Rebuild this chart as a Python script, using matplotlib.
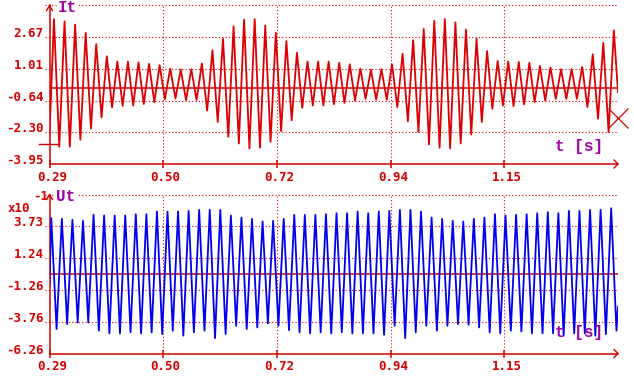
import numpy as np
import matplotlib
matplotlib.use("Agg")
import matplotlib.pyplot as plt
from matplotlib.lines import Line2D
from matplotlib import transforms as mtrans

# ---------------- data ----------------
t_start = 0.288          # left end of the time axis [s]
t_div = 0.2158           # width of one time division [s]
x_tick_labels = ["0.29", "0.50", "0.72", "0.94", "1.15"]

it_y_min = -3.953
it_y_div = 1.6565
it_y_labels = ["-3.95", "-2.30", "-0.64", "1.01", "2.67"]

ut_y_min = -6.26
ut_y_div = 2.498
ut_y_labels = ["-6.26", "-3.76", "-1.26", "1.24", "3.73"]

period = 0.02005         # one mains cycle [s]
it_first_peak_t = 0.2965
ut_first_peak_t = 0.2914

# current It: peak and trough of every cycle
it_peaks = [3.62, 3.50, 3.33, 2.90, 2.31, 1.68, 1.40, 1.40, 1.36, 1.28, 1.21, 1.03, 0.99, 1.00, 1.30, 1.99, 2.59, 3.24,
            3.59, 3.62, 3.28, 2.90, 2.47, 1.86, 1.40, 1.40, 1.40, 1.34, 1.26, 1.03, 0.97, 1.00, 1.26, 1.81, 2.52, 3.10,
            3.53, 3.62, 3.45, 3.07, 2.59, 1.95, 1.43, 1.40, 1.38, 1.34, 1.17, 1.09, 1.00, 1.00, 1.12, 1.78, 2.38, 3.03]
it_troughs = [-3.05, -3.05, -2.68, -2.10, -1.52, -1.00, -0.91, -0.90, -0.82, -0.72, -0.57, -0.53, -0.61, -0.61, -1.16, -1.76, -2.53, -2.88,
              -3.14, -3.10, -2.79, -2.24, -1.67, -1.02, -0.90, -0.90, -0.83, -0.76, -0.64, -0.55, -0.59, -0.59, -0.98, -1.72, -2.28, -2.93,
              -3.10, -3.14, -2.88, -2.41, -1.76, -1.07, -0.90, -0.93, -0.84, -0.72, -0.64, -0.55, -0.55, -0.55, -0.98, -1.59, -2.28]
it_start_value = -2.4
it_end_value = -0.2

# voltage Ut (x10^-1): peak and trough of every cycle
ut_peaks = [4.37, 4.32, 4.24, 4.16, 4.63, 4.58, 4.58, 4.58, 4.68, 4.68, 4.89, 4.89, 4.89, 4.94, 5.02, 5.02, 5.02, 4.58,
            4.42, 4.32, 4.11, 4.16, 4.32, 4.63, 4.63, 4.63, 4.68, 4.76, 4.76, 4.89, 4.76, 4.89, 4.94, 5.02, 5.02, 4.89,
            4.42, 4.32, 4.16, 4.11, 4.32, 4.42, 4.68, 4.58, 4.63, 4.68, 4.76, 4.84, 4.76, 4.94, 4.94, 5.02, 5.02, 5.15]
ut_troughs = [-4.34, -3.95, -3.82, -3.82, -4.47, -4.68, -4.68, -4.60, -4.68, -4.60, -4.73, -4.47, -4.86, -4.60, -4.47, -5.05, -4.73, -4.08,
              -4.34, -4.21, -3.90, -4.08, -4.42, -4.60, -4.68, -4.60, -4.68, -4.60, -4.68, -4.68, -4.68, -4.79, -4.08, -5.05, -4.60, -4.08,
              -4.47, -4.08, -3.95, -4.00, -4.21, -4.60, -4.68, -4.47, -4.53, -4.68, -4.68, -4.68, -4.86, -4.68, -4.68, -4.86, -4.73, -4.47]
ut_start_value = -0.8
ut_end_value = -2.6

cursor_value = -1.55     # cursor mark at the right end of the It trace
it_marker_value = -2.91  # level marker left of the It axis

# ---------------- style ----------------
RED = "#d20000"
SIG_RED = "#dc0000"
BLUE = "#0000f0"
PURPLE = "#a000a8"
LABEL_FONT = dict(family="DejaVu Sans Mono", weight="bold", size=9, color=RED)
NAME_FONT = dict(family="Liberation Mono", weight="bold", size=11.5, color=PURPLE)

W, H = 634, 380
fig = plt.figure(figsize=(W / 100, H / 100), dpi=100)
fig.patch.set_facecolor("white")


def px(x, y):
    return x / W, 1 - y / H


def build_series(first_t, peaks, troughs, start_v, end_v, t_end):
    tp = first_t + np.arange(len(peaks)) * period
    tt = first_t + (np.arange(len(troughs)) + 0.5) * period
    ts, ys = [t_start], [start_v]
    for i in range(len(peaks)):
        ts.append(tp[i]); ys.append(peaks[i])
        if i < len(troughs):
            ts.append(tt[i]); ys.append(troughs[i])
    ts.append(t_end); ys.append(end_v)
    return np.array(ts), np.array(ys)


t_end = t_start + 5 * t_div
x_ticks = t_start + np.arange(len(x_tick_labels)) * t_div


def setup_panel(ax, y_min, y_div, y_labels, name, name_xy, tlabel_xy):
    y_max = y_min + 5 * y_div
    ax.set_xlim(t_start, t_end)
    ax.set_ylim(y_min, y_max)
    ax.set_facecolor("white")
    for s in ["top", "right"]:
        ax.spines[s].set_visible(False)
    for s in ["left", "bottom"]:
        ax.spines[s].set_color(RED)
        ax.spines[s].set_linewidth(1.1)
    ax.set_xticks(x_ticks)
    ax.set_xticklabels([])
    ax.set_yticks([])
    ax.tick_params(axis="x", direction="inout", length=6, width=1.1, color=RED)
    dot = dict(color=RED, lw=0.8, linestyle=(0, (1, 2)), zorder=1)
    y_ticks = y_min + np.arange(len(y_labels)) * y_div
    btrans = mtrans.blended_transform_factory(ax.transAxes, ax.transData)
    for yv in list(y_ticks[1:]) + [y_max]:
        ax.plot([-0.008, 1.0], [yv, yv], transform=btrans, clip_on=False, **dot)
    for xv in list(x_ticks[1:]) + [t_end]:
        ax.axvline(xv, **dot)
    ax.axhline(0, color=RED, lw=1.1, zorder=2)
    # tick labels
    ylab_trans = btrans + mtrans.ScaledTranslation(-6.0 / 100, 0, fig.dpi_scale_trans)
    for yv, lab in zip(y_ticks, y_labels):
        ax.text(0, yv, lab, transform=ylab_trans, ha="right", va="baseline", **LABEL_FONT)
    xtrans = mtrans.blended_transform_factory(ax.transData, ax.transAxes) + \
        mtrans.ScaledTranslation(2.5 / 100, -17 / 100, fig.dpi_scale_trans)
    for xv, lab in zip(x_ticks, x_tick_labels):
        ax.text(xv, 0, lab, transform=xtrans, ha="center", va="baseline", **LABEL_FONT)
    fig.text(*px(*name_xy), name, ha="left", va="center",
             bbox=dict(facecolor="white", edgecolor="none", pad=1), zorder=5, **NAME_FONT)
    fig.text(*px(*tlabel_xy), "t [s]", ha="left", va="center", zorder=5, **NAME_FONT)


# axes geometry (pixels)
L, R = 49.5, 618.0
ax1 = fig.add_axes([px(L, 164)[0], px(L, 164)[1], (R - L) / W, (164 - 5.5) / H])
ax2 = fig.add_axes([px(L, 353.5)[0], px(L, 353.5)[1], (R - L) / W, (353.5 - 194.5) / H])

setup_panel(ax1, it_y_min, it_y_div, it_y_labels, "It", (58, 7.5), (555, 146))
setup_panel(ax2, ut_y_min, ut_y_div, ut_y_labels, "Ut", (56, 197), (555, 333))

t1, y1 = build_series(it_first_peak_t, it_peaks, it_troughs, it_start_value, it_end_value, t_end)
ax1.plot(t1, y1, color=SIG_RED, lw=1.3, zorder=3)
t2, y2 = build_series(ut_first_peak_t, ut_peaks, ut_troughs, ut_start_value, ut_end_value, t_end)
ax2.plot(t2, y2, color=BLUE, lw=1.3, zorder=3)

# cursor cross and level marker on the It panel
ax1.plot([t_end], [cursor_value], marker="x", ms=14, mew=0.9, color=RED, clip_on=False, zorder=4)
b1 = mtrans.blended_transform_factory(ax1.transAxes, ax1.transData)
ax1.plot([-0.0185, 0.015], [it_marker_value, it_marker_value], transform=b1,
         color=RED, lw=1.0, clip_on=False)

# axis arrow heads
for top_y, bot_y in [(5.5, 164), (194.5, 353.5)]:
    xs, ys = zip(px(L - 3, top_y + 5), px(L, top_y), px(L + 3, top_y + 5))
    fig.add_artist(Line2D(xs, ys, color=RED, lw=1.0))
    xs, ys = zip(px(R - 4, bot_y - 4), px(R, bot_y), px(R - 4, bot_y + 4))
    fig.add_artist(Line2D(xs, ys, color=RED, lw=1.0))

# scale factor of the Ut axis
fig.text(*px(8, 208), "x10", ha="left", va="center", **LABEL_FONT)
fig.text(*px(33, 197), "-1", ha="left", va="center", **LABEL_FONT)

fig.savefig("out.png", dpi=100, facecolor="white")
